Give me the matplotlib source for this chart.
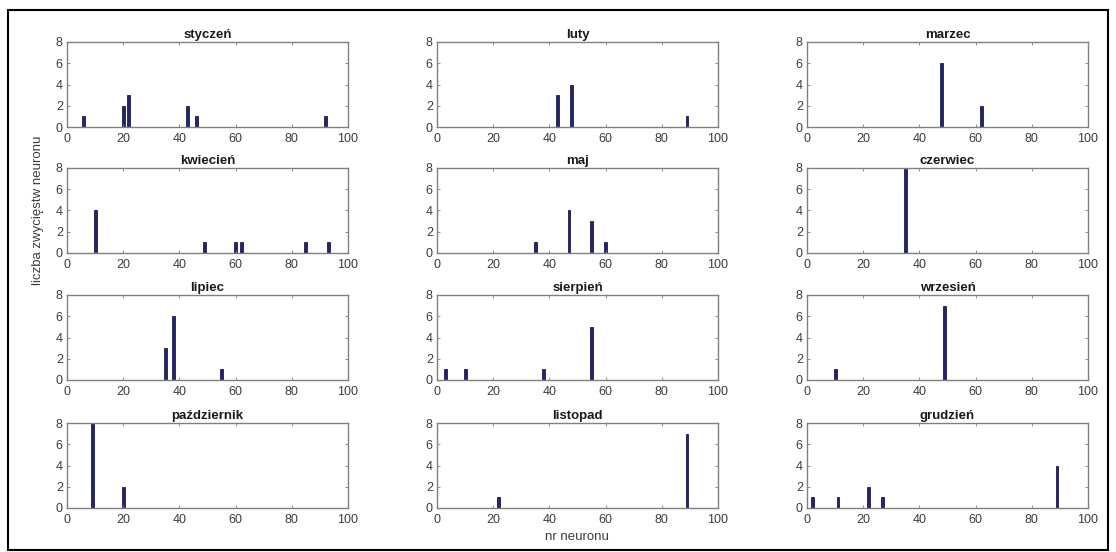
import matplotlib
matplotlib.use("Agg")
import matplotlib.pyplot as plt
from matplotlib.patches import Rectangle

plt.rcParams["font.family"] = ["Liberation Sans", "DejaVu Sans"]

# month titles and winning-neuron histograms (neuron index -> win count)
months = ["styczeń", "luty", "marzec", "kwiecień", "maj", "czerwiec",
          "lipiec", "sierpień", "wrzesień", "październik", "listopad", "grudzień"]

sty_x = [6, 20, 22, 43, 46, 92]
sty_y = [1, 2, 3, 2, 1, 1]
lut_x = [43, 48, 89]
lut_y = [3, 4, 1]
mar_x = [48, 62]
mar_y = [6, 2]
kwi_x = [10, 49, 60, 62, 85, 93]
kwi_y = [4, 1, 1, 1, 1, 1]
maj_x = [35, 47, 55, 60]
maj_y = [1, 4, 3, 1]
cze_x = [35]
cze_y = [8]
lip_x = [35, 38, 55]
lip_y = [3, 6, 1]
sie_x = [3, 10, 38, 55]
sie_y = [1, 1, 1, 5]
wrz_x = [10, 49]
wrz_y = [1, 7]
paz_x = [9, 20]
paz_y = [8, 2]
lis_x = [22, 89]
lis_y = [1, 7]
gru_x = [2, 11, 22, 27, 89]
gru_y = [1, 1, 2, 1, 4]

xs = [sty_x, lut_x, mar_x, kwi_x, maj_x, cze_x, lip_x, sie_x, wrz_x, paz_x, lis_x, gru_x]
ys = [sty_y, lut_y, mar_y, kwi_y, maj_y, cze_y, lip_y, sie_y, wrz_y, paz_y, lis_y, gru_y]

W, H = 1116, 552
fig = plt.figure(figsize=(W / 100, H / 100), dpi=100)

col_left = [67, 437, 807]
row_top = [42, 168, 295, 423]
ax_w, ax_h = 281, 85

axc = "#808080"
txt = "#3c3c3c"
bar_c = "#24236e"

for i, (name, x, y) in enumerate(zip(months, xs, ys)):
    r, c = divmod(i, 3)
    l = col_left[c] / W
    b = 1 - (row_top[r] + ax_h) / H
    ax = fig.add_axes([l, b, ax_w / W, ax_h / H])
    ax.bar(x, y, width=1.0, color=bar_c, edgecolor="#1a1a50", linewidth=0.6)
    ax.set_xlim(0, 100)
    ax.set_ylim(0, 8)
    ax.set_xticks(range(0, 101, 20))
    ax.set_yticks(range(0, 9, 2))
    ax.tick_params(direction="in", length=2.5, width=0.6, color=axc,
                   labelsize=9, labelcolor=txt, top=True, right=True)
    ax.tick_params(axis="x", pad=4)
    ax.tick_params(axis="y", pad=3)
    for s in ax.spines.values():
        s.set_color(axc)
        s.set_linewidth(1.0)
    ax.set_title(name, fontsize=9.5, fontweight="bold", color="#1a1a1a", pad=3)

fig.text(38 / W, 1 - 210 / H, "liczba zwycięstw neuronu", rotation=90,
         ha="center", va="center", fontsize=9.5, color=txt)
fig.text(577 / W, 1 - 537 / H, "nr neuronu", ha="center", va="center",
         fontsize=9.5, color=txt)

# black frame round the whole figure
fig.patches.append(Rectangle((8 / W, 2 / H), 1100 / W, 540 / H,
                             transform=fig.transFigure, fill=False,
                             edgecolor="black", linewidth=1.5))

fig.savefig("out.png", dpi=100)
